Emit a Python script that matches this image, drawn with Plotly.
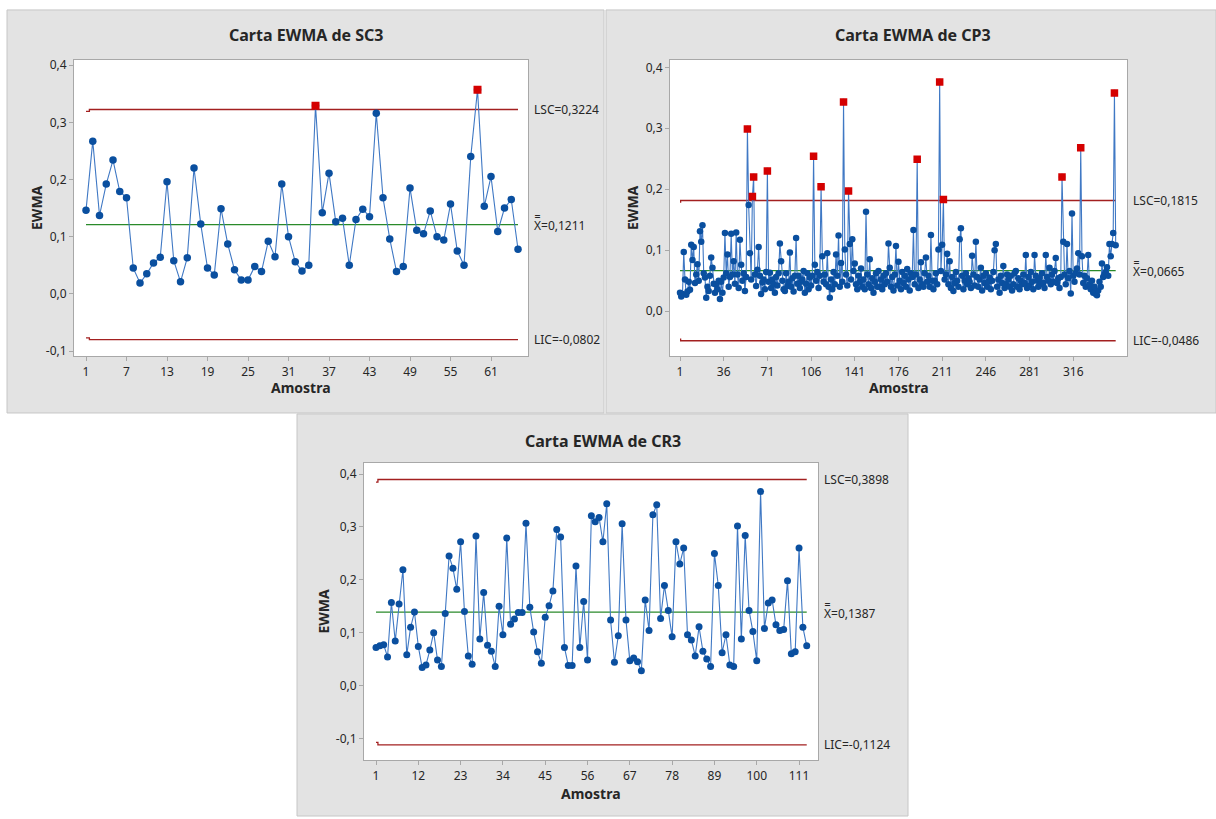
import plotly.graph_objects as go

W, H = 1216, 819

# ---- SC3 ----
sc3_values = [
    0.146, 0.267, 0.137, 0.192, 0.234, 0.179, 0.168, 0.045, 0.019, 0.035,
    0.054, 0.064, 0.196, 0.058, 0.021, 0.063, 0.220, 0.122, 0.045, 0.033,
    0.149, 0.087, 0.042, 0.024, 0.024, 0.048, 0.039, 0.092, 0.065, 0.192,
    0.100, 0.056, 0.040, 0.050, 0.329, 0.142, 0.211, 0.126, 0.132, 0.050,
    0.130, 0.148, 0.135, 0.316, 0.168, 0.096, 0.039, 0.048, 0.185, 0.111,
    0.105, 0.145, 0.100, 0.094, 0.157, 0.075, 0.050, 0.240, 0.357, 0.153,
    0.205, 0.109, 0.150, 0.165, 0.078,
]
sc3_center, sc3_lsc, sc3_lic = 0.1211, 0.3224, -0.0802
sc3_lsc_first, sc3_lic_first = 0.3190, -0.0770
sc3_ticks = [1, 7, 13, 19, 25, 31, 37, 43, 49, 55, 61]

# ---- CP3 ----
cp3_values = [
    0.030, 0.024, 0.028, 0.097, 0.052, 0.027, 0.032, 0.048, 0.035, 0.109,
    0.084, 0.105, 0.046, 0.060, 0.077, 0.050, 0.131, 0.114, 0.141, 0.062,
    0.055, 0.022, 0.040, 0.033, 0.058, 0.088, 0.071, 0.045, 0.030, 0.044,
    0.036, 0.050, 0.020, 0.048, 0.030, 0.055, 0.128, 0.062, 0.093, 0.040,
    0.056, 0.127, 0.060, 0.082, 0.045, 0.129, 0.060, 0.038, 0.117, 0.076,
    0.050, 0.062, 0.033, 0.056, 0.299, 0.174, 0.095, 0.052, 0.188, 0.220,
    0.060, 0.041, 0.068, 0.105, 0.058, 0.028, 0.047, 0.052, 0.036, 0.064,
    0.230, 0.048, 0.063, 0.038, 0.052, 0.044, 0.030, 0.056, 0.042, 0.062,
    0.111, 0.082, 0.050, 0.036, 0.033, 0.062, 0.041, 0.048, 0.096, 0.040,
    0.054, 0.032, 0.058, 0.120, 0.045, 0.058, 0.038, 0.048, 0.052, 0.066,
    0.030, 0.045, 0.062, 0.036, 0.055, 0.042, 0.058, 0.254, 0.076, 0.050,
    0.064, 0.038, 0.058, 0.204, 0.090, 0.048, 0.060, 0.044, 0.095, 0.040,
    0.022, 0.052, 0.036, 0.064, 0.044, 0.093, 0.058, 0.124, 0.040, 0.079,
    0.048, 0.343, 0.101, 0.060, 0.042, 0.197, 0.110, 0.052, 0.118, 0.066,
    0.078, 0.044, 0.036, 0.058, 0.048, 0.070, 0.040, 0.052, 0.036, 0.163,
    0.060, 0.044, 0.085, 0.038, 0.054, 0.030, 0.048, 0.062, 0.040, 0.066,
    0.040, 0.052, 0.036, 0.058, 0.044, 0.062, 0.048, 0.111, 0.071, 0.040,
    0.056, 0.034, 0.060, 0.107, 0.042, 0.081, 0.050, 0.036, 0.064, 0.046,
    0.058, 0.040, 0.069, 0.052, 0.034, 0.062, 0.056, 0.133, 0.044, 0.060,
    0.249, 0.038, 0.052, 0.080, 0.044, 0.040, 0.062, 0.088, 0.048, 0.058,
    0.040, 0.125, 0.050, 0.036, 0.050, 0.062, 0.044, 0.101, 0.376, 0.066,
    0.109, 0.183, 0.052, 0.060, 0.094, 0.044, 0.082, 0.038, 0.056, 0.033,
    0.046, 0.064, 0.050, 0.040, 0.118, 0.136, 0.058, 0.036, 0.050, 0.062,
    0.044, 0.054, 0.048, 0.038, 0.091, 0.060, 0.042, 0.114, 0.056, 0.040,
    0.052, 0.071, 0.034, 0.058, 0.046, 0.062, 0.040, 0.048, 0.055, 0.036,
    0.050, 0.064, 0.100, 0.110, 0.040, 0.052, 0.030, 0.058, 0.046, 0.074,
    0.038, 0.044, 0.060, 0.052, 0.040, 0.058, 0.034, 0.044, 0.062, 0.066,
    0.040, 0.054, 0.036, 0.050, 0.044, 0.060, 0.046, 0.092, 0.038, 0.056,
    0.042, 0.064, 0.048, 0.036, 0.092, 0.058, 0.050, 0.040, 0.054, 0.044,
    0.062, 0.046, 0.038, 0.092, 0.056, 0.050, 0.071, 0.044, 0.060, 0.048,
    0.066, 0.087, 0.046, 0.054, 0.038, 0.056, 0.220, 0.114, 0.060, 0.044,
    0.110, 0.054, 0.066, 0.029, 0.160, 0.058, 0.048, 0.062, 0.070, 0.095,
    0.060, 0.268, 0.090, 0.046, 0.058, 0.040, 0.054, 0.092, 0.044, 0.036,
    0.050, 0.030, 0.040, 0.028, 0.026, 0.034, 0.048, 0.040, 0.078, 0.056,
    0.060, 0.064, 0.072, 0.058, 0.110, 0.090, 0.110, 0.128, 0.358, 0.108,
]
cp3_center, cp3_lsc, cp3_lic = 0.0665, 0.1815, -0.0486
cp3_lsc_first, cp3_lic_first = 0.1790, -0.0461
cp3_ticks = [1, 36, 71, 106, 141, 176, 211, 246, 281, 316]

# ---- CR3 ----
cr3_values = [
    0.072, 0.075, 0.077, 0.054, 0.157, 0.084, 0.154, 0.219, 0.058, 0.110,
    0.139, 0.074, 0.034, 0.039, 0.067, 0.100, 0.048, 0.036, 0.136, 0.245,
    0.222, 0.182, 0.272, 0.140, 0.056, 0.040, 0.283, 0.088, 0.176, 0.076,
    0.065, 0.036, 0.150, 0.096, 0.279, 0.116, 0.126, 0.138, 0.138, 0.307,
    0.148, 0.101, 0.064, 0.042, 0.129, 0.151, 0.179, 0.295, 0.281, 0.072,
    0.038, 0.038, 0.226, 0.072, 0.159, 0.048, 0.321, 0.310, 0.318, 0.272,
    0.344, 0.124, 0.044, 0.094, 0.306, 0.124, 0.047, 0.052, 0.045, 0.028,
    0.162, 0.104, 0.323, 0.342, 0.127, 0.189, 0.142, 0.092, 0.272, 0.230,
    0.260, 0.096, 0.086, 0.056, 0.111, 0.065, 0.050, 0.036, 0.250, 0.189,
    0.062, 0.096, 0.039, 0.036, 0.302, 0.088, 0.284, 0.142, 0.102, 0.047,
    0.367, 0.108, 0.156, 0.162, 0.115, 0.104, 0.106, 0.198, 0.060, 0.064,
    0.260, 0.110, 0.075,
]
cr3_center, cr3_lsc, cr3_lic = 0.1387, 0.3898, -0.1124
cr3_lsc_first, cr3_lic_first = 0.3850, -0.1076
cr3_ticks = [1, 12, 23, 34, 45, 56, 67, 78, 89, 100, 111]

FONT = "Noto Sans"
BLUE_LINE = "#3f78c4"
BLUE_DOT = "#0a4f9f"
RED_LIM = "#a32020"
GREEN = "#2a8a2a"
TXT = "#262626"


def px(x):
    return x / W


def py(y):
    return 1 - y / H


fig = go.Figure()
shapes = []
annotations = []

# panel backgrounds
panels = [(7, 7, 604, 413), (606, 7, 1216, 413), (297, 414, 908, 819)]
for x0, y0, x1, y1 in panels:
    shapes.append(dict(type="rect", xref="paper", yref="paper", layer="below",
                       x0=px(x0), x1=px(x1), y0=py(y1), y1=py(y0),
                       fillcolor="#e3e3e3", line=dict(color="#c6c6c6", width=1)))

charts = [
    dict(name="SC3", values=sc3_values, center=sc3_center, lsc=sc3_lsc, lic=sc3_lic,
         lsc1=sc3_lsc_first, lic1=sc3_lic_first, ticks=sc3_ticks,
         box=(74, 57, 528, 356), xr=[-0.78, 66.48], yr=[-0.1094, 0.4097],
         title_xy=(306, 32), ytitle_x=37, xtitle_y=387, msize=7.5, rsize=8),
    dict(name="CP3", values=cp3_values, center=cp3_center, lsc=cp3_lsc, lic=cp3_lic,
         lsc1=cp3_lsc_first, lic1=cp3_lic_first, ticks=cp3_ticks,
         box=(670, 57, 1127, 356), xr=[-7.01, 359.06], yr=[-0.0743, 0.4127],
         title_xy=(913, 32), ytitle_x=633, xtitle_y=387, msize=6.5, rsize=7.5),
    dict(name="CR3", values=cr3_values, center=cr3_center, lsc=cr3_lsc, lic=cr3_lic,
         lsc1=cr3_lsc_first, lic1=cr3_lic_first, ticks=cr3_ticks,
         box=(364, 463, 818, 763), xr=[-2.12, 115.93], yr=[-0.1418, 0.4218],
         title_xy=(603, 441), ytitle_x=324, xtitle_y=796, msize=7, rsize=8),
]

layout_axes = {}
for k, c in enumerate(charts, start=1):
    xa = "x" if k == 1 else f"x{k}"
    ya = "y" if k == 1 else f"y{k}"
    x0, y0, x1, y1 = c["box"]
    vals = c["values"]
    n = len(vals)
    samples = list(range(1, n + 1))

    # white plotting area
    shapes.append(dict(type="rect", xref="paper", yref="paper", layer="below",
                       x0=px(x0), x1=px(x1), y0=py(y1), y1=py(y0),
                       fillcolor="white", line=dict(width=0)))

    ucl = [c["lsc1"]] + [c["lsc"]] * (n - 1)
    lcl = [c["lic1"]] + [c["lic"]] * (n - 1)
    for lim in (ucl, lcl):
        fig.add_trace(go.Scatter(x=samples, y=lim, mode="lines", xaxis=xa, yaxis=ya,
                                 line=dict(color=RED_LIM, width=1.3, shape="hvh"),
                                 hoverinfo="skip", showlegend=False))
    fig.add_trace(go.Scatter(x=[1, n], y=[c["center"]] * 2, mode="lines", xaxis=xa, yaxis=ya,
                             line=dict(color=GREEN, width=1.3),
                             hoverinfo="skip", showlegend=False))
    fig.add_trace(go.Scatter(x=samples, y=vals, mode="lines+markers", xaxis=xa, yaxis=ya,
                             line=dict(color=BLUE_LINE, width=1.1),
                             marker=dict(color=BLUE_DOT, size=c["msize"]),
                             showlegend=False, name=c["name"]))
    out_x = [s for s, v in zip(samples, vals) if v > c["lsc"] or v < c["lic"]]
    out_y = [v for v in vals if v > c["lsc"] or v < c["lic"]]
    fig.add_trace(go.Scatter(x=out_x, y=out_y, mode="markers", xaxis=xa, yaxis=ya,
                             marker=dict(color="#d40000", symbol="square", size=c["rsize"]),
                             showlegend=False))

    axis_common = dict(showgrid=False, zeroline=False, showline=True, mirror=True,
                       linecolor="#a8a8a8", linewidth=1, ticks="outside", ticklen=4,
                       tickcolor="#a8a8a8", tickfont=dict(family=FONT, size=12, color=TXT))
    layout_axes["xaxis" if k == 1 else f"xaxis{k}"] = dict(
        axis_common, domain=[px(x0), px(x1)], range=c["xr"], anchor=ya,
        tickmode="array", tickvals=c["ticks"], ticktext=[str(t) for t in c["ticks"]])
    layout_axes["yaxis" if k == 1 else f"yaxis{k}"] = dict(
        axis_common, domain=[py(y1), py(y0)], range=c["yr"], anchor=xa,
        tickmode="array", tickvals=[-0.1, 0.0, 0.1, 0.2, 0.3, 0.4],
        ticktext=["-0,1", "0,0", "0,1", "0,2", "0,3", "0,4"])

    tx, ty = c["title_xy"]
    annotations.append(dict(text=f"<b>Carta EWMA de {c['name']}</b>", xref="paper", yref="paper",
                            x=px(tx), y=py(ty), showarrow=False, xanchor="center", yanchor="middle",
                            font=dict(family=FONT, size=16, color=TXT)))
    annotations.append(dict(text="<b>EWMA</b>", xref="paper", yref="paper", textangle=-90,
                            x=px(c["ytitle_x"]), y=py((y0 + y1) / 2), showarrow=False,
                            xanchor="center", yanchor="middle",
                            font=dict(family=FONT, size=14, color=TXT)))
    annotations.append(dict(text="<b>Amostra</b>", xref="paper", yref="paper",
                            x=px((x0 + x1) / 2), y=py(c["xtitle_y"]), showarrow=False,
                            xanchor="center", yanchor="middle",
                            font=dict(family=FONT, size=14, color=TXT)))

    def fmt(v):
        return f"{v:.4f}".replace(".", ",")

    for lab, val in (("LSC=", c["lsc"]), ("X\u033f=", c["center"]), ("LIC=", c["lic"])):
        annotations.append(dict(text=lab + fmt(val), xref="paper", yref=ya,
                                x=px(x1 + 4), y=val, showarrow=False,
                                xanchor="left", yanchor="middle",
                                font=dict(family=FONT, size=12, color=TXT)))

fig.update_layout(
    width=W, height=H, margin=dict(l=0, r=0, t=0, b=0),
    paper_bgcolor="white", plot_bgcolor="rgba(0,0,0,0)",
    font=dict(family=FONT, color=TXT),
    shapes=shapes, annotations=annotations, showlegend=False,
    **layout_axes,
)

fig.write_html("out.html")
